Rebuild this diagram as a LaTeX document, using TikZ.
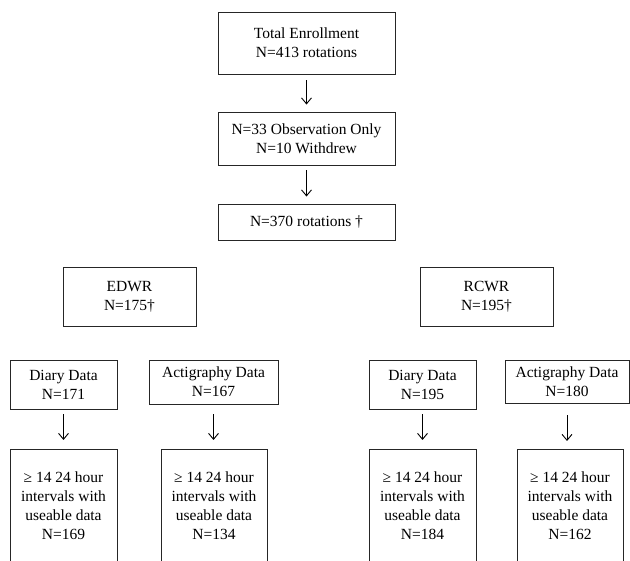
\documentclass[tikz,border=0pt]{standalone}
\usepackage{fontspec}
\setmainfont{Liberation Serif}
\usepackage{tikz}
\usetikzlibrary{arrows.meta,calc}
\tikzset{
  box/.style={draw=black!85, line width=0.9pt, align=center, inner sep=2pt,
              font=\fontsize{15.5}{19}\selectfont},
  topbox/.style={box, minimum width=177pt},
  armbox/.style={box, minimum width=133pt, minimum height=59pt},
  databox/.style={box, minimum height=49pt},
  resultbox/.style={box, anchor=north, minimum height=112pt},
  flow/.style={-{Straight Barb[length=6pt, width=10pt, line width=0.9pt]}, line width=0.9pt, black}
}

\begin{document}
\begin{tikzpicture}[x=1pt, y=-1pt]
\useasboundingbox (0,0) rectangle (630,561);
\clip (0,0) rectangle (630,561);
% top chain
\node (total) [topbox, minimum height=62pt] at (306.5,43) {Total Enrollment\\N=413 rotations};
\node (excl) [topbox, minimum height=53pt] at (306.5,138.5) {N=33 Observation Only\\N=10 Withdrew};
\node (rot) [topbox, minimum height=36pt] at (306.5,222) {N=370 rotations \textdagger};
\draw[flow, shorten <=6pt, shorten >=7pt] (total) -- (excl);
\draw[flow, shorten <=5pt, shorten >=7pt] (excl) -- (rot);
% two arms
\node (edwr) [armbox] at (129.5,296.5) {EDWR\\N=175\textdagger};
\node (rcwr) [armbox] at (486.5,296.5) {RCWR\\N=195\textdagger};
% data boxes
\node (diaryL) [databox, minimum width=107pt] at (63.5,384.5) {Diary Data\\N=171};
\node (actiL) [databox, minimum width=129pt, minimum height=44pt] at (213.5,382) {Actigraphy Data\\N=167};
\node (diaryR) [databox, minimum width=107pt] at (422.5,384.5) {Diary Data\\N=195};
\node (actiR) [databox, minimum width=124pt, minimum height=43pt] at (567,381.5) {Actigraphy Data\\N=180};
% usable data
\node (useDL) [resultbox, minimum width=107pt] at (63.5,449) {≥ 14 24 hour\\intervals with\\useable data\\N=169};
\node (useAL) [resultbox, minimum width=106pt] at (214,449) {≥ 14 24 hour\\intervals with\\useable data\\N=134};
\node (useDR) [resultbox, minimum width=107pt] at (422.5,449) {≥ 14 24 hour\\intervals with\\useable data\\N=184};
\node (useAR) [resultbox, minimum width=106pt] at (570,449) {≥ 14 24 hour\\intervals with\\useable data\\N=162};
\draw[flow, shorten <=5pt, shorten >=9pt] (diaryL) -- (diaryL |- useDL.north);
\draw[flow, shorten <=10pt, shorten >=9pt] (actiL) -- (actiL |- useAL.north);
\draw[flow, shorten <=5pt, shorten >=9pt] (diaryR) -- (diaryR |- useDR.north);
\draw[flow, shorten <=12pt, shorten >=8pt] (actiR.south) -- (actiR.south |- useAR.north);
\end{tikzpicture}
\end{document}
